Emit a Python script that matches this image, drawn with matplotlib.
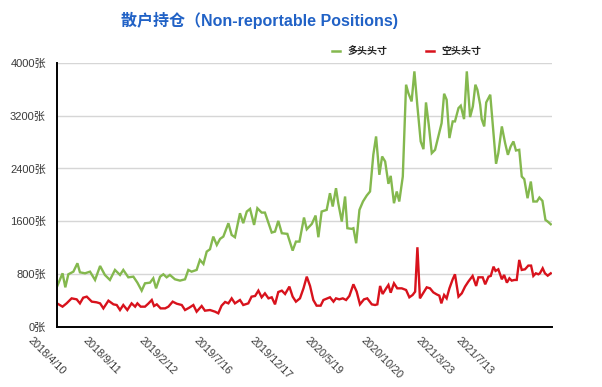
import numpy as np
import pandas as pd
import matplotlib
matplotlib.use("Agg")
import matplotlib.pyplot as plt
import matplotlib.transforms as mtransforms

plt.rcParams['font.family'] = ['Liberation Sans', 'Noto Sans CJK SC', 'DejaVu Sans']

start_date = "2018-04-10"
tick_labels = ["2018/4/10", "2018/9/11", "2019/2/12", "2019/7/16", "2019/12/17",
               "2020/5/19", "2020/10/20", "2021/3/23", "2021/7/13"]
y_ticks = [0, 800, 1600, 2400, 3200, 4000]

# weeks since 2018-04-10 and contract counts
long_weeks = [0, 2.2, 3.3, 4.5, 6.5, 8.1, 9.1, 11.1, 13.1, 15.1, 17.1, 19.0, 21.0, 23.0, 25.0,
              26.3, 28.3, 30.3, 31.9, 33.6, 34.9, 36.9, 38.2, 39.3, 40.9, 42.2, 43.5, 44.8,
              46.8, 48.8, 50.8, 52.1, 53.4, 55.4, 56.7, 58.1, 59.4, 60.7, 62.0, 63.4, 64.7,
              66.0, 68.0, 69.3, 70.6, 72.6, 73.9, 75.3, 76.6, 78.2, 79.5, 81.2, 82.5, 85.2,
              86.5, 87.8, 89.2, 91.4, 93.5, 94.8, 96.2, 98.0, 99.1, 101.1, 102.6, 103.7,
              105.0, 107.0, 108.3, 109.4, 110.7, 111.6, 113.0, 114.3, 115.2, 116.9, 117.6,
              118.7, 120.0, 121.4, 122.9, 124.2, 125.5, 126.6, 127.9, 129.0, 130.2, 131.5,
              132.4, 133.7, 134.8, 135.8, 137.2, 138.5, 139.4, 140.7, 141.8, 143.0, 144.3,
              145.4, 146.4, 147.5, 148.7, 150.0, 151.3, 152.6, 153.6, 154.6, 155.7, 157.0,
              157.9, 159.3, 160.2, 161.5, 162.6, 163.9, 165.0, 166.0, 166.8, 167.9, 168.5,
              169.5, 170.3, 171.9, 172.9, 174.2, 175.1, 176.5, 177.8, 178.9, 180.0, 181.1,
              182.1, 183.4, 184.4, 185.4, 186.7, 188.0, 189.0, 190.4, 191.4, 192.6, 193.8,
              194.7, 195.9]
long_vals = [607, 810, 597, 795, 835, 962, 825, 810, 835, 709, 921, 785, 709, 861, 785,
             861, 749, 759, 668, 547, 658, 668, 734, 582, 759, 795, 749, 785,
             719, 699, 719, 861, 835, 861, 1013, 952, 1139, 1175, 1367, 1240, 1332,
             1367, 1570, 1392, 1357, 1721, 1570, 1747, 1787, 1544, 1797, 1731, 1731, 1428,
             1443, 1605, 1418, 1408, 1154, 1291, 1291, 1656, 1478, 1559, 1686, 1357,
             1747, 1772, 2025, 1823, 2101, 1873, 1595, 1975, 1494, 1484, 1494,
             1266, 1772, 1899, 1990, 2051, 2607, 2886, 2304, 2582, 2506, 2167,
             2288, 1873, 2051, 1899, 2278, 3671, 3544, 3417, 3873, 3342, 2810,
             2693, 3402, 3063, 2633, 2683, 2886, 3088, 3534, 3443, 2861, 3114,
             3114, 3316, 3352, 3149, 3873, 3180, 3342, 3671, 3595, 3367, 3149,
             3038, 3402, 3519, 3063, 2471, 2633, 3038, 2785, 2607, 2734, 2810,
             2673, 2683, 2278, 2238, 1949, 2202, 1899, 1899, 1959, 1909, 1620,
             1595, 1554]

short_weeks = [0, 2.2, 3.8, 5.8, 7.8, 9.1, 10.4, 11.8, 13.8, 15.7, 17.1, 18.4, 20.4, 22.4,
               23.7, 25.0, 26.3, 27.9, 29.6, 31.0, 31.9, 33.2, 34.9, 36.2, 37.6, 38.5, 39.6,
               41.1, 42.9, 44.2, 45.9, 47.5, 49.5, 50.8, 52.5, 54.1, 55.4, 57.4, 58.7, 60.7,
               62.7, 64.0, 65.3, 66.7, 68.0, 69.3, 70.6, 72.6, 73.9, 75.9, 77.2, 78.6, 79.9,
               81.2, 82.5, 83.9, 85.2, 86.5, 87.8, 89.2, 90.5, 92.2, 93.5, 94.8, 96.4, 97.8,
               99.1, 100.4, 101.7, 103.0, 104.6, 105.7, 107.3, 108.3, 109.7, 110.7, 112.0,
               113.4, 114.7, 116.0, 117.6, 118.9, 120.2, 121.8, 123.1, 124.9, 126.2, 127.1,
               128.2, 129.2, 130.6, 131.5, 132.4, 133.7, 135.0, 136.8, 138.5, 139.8, 141.1,
               142.1, 143.0, 144.0, 145.4, 146.7, 148.0, 149.3, 150.6, 151.7, 152.5, 153.6,
               154.6, 155.7, 157.0, 157.9, 159.3, 160.6, 161.9, 163.2, 164.9, 166.3, 167.2,
               168.9, 169.9, 171.2, 172.1, 173.2, 174.0, 175.1, 176.5, 177.4, 178.5, 179.5,
               180.4, 181.5, 182.4, 183.4, 184.4, 185.7, 187.0, 188.1, 189.0, 190.0, 191.0,
               191.6, 192.7, 193.6, 194.7, 195.9]
short_vals = [354, 304, 354, 430, 415, 354, 440, 456, 380, 370, 354, 278, 395, 339,
              329, 253, 329, 253, 354, 304, 354, 304, 304, 349, 405, 314, 339,
              278, 278, 304, 380, 349, 329, 253, 289, 329, 228, 314, 243, 253,
              228, 203, 319, 375, 354, 430, 354, 405, 329, 354, 456, 466, 547,
              446, 506, 430, 446, 339, 526, 547, 496, 608, 456, 380, 430, 582,
              759, 618, 405, 319, 319, 405, 430, 446, 380, 430, 415,
              430, 405, 466, 643, 532, 339, 415, 430, 339, 329, 339,
              618, 496, 582, 633, 516, 658, 582, 582, 557, 446, 481,
              532, 1205, 430, 516, 597, 582, 521, 491, 471, 354, 481,
              430, 582, 719, 795, 456, 506, 608, 684, 770, 618, 749,
              749, 643, 759, 770, 911, 846, 871, 719, 785, 668, 734,
              699, 709, 709, 1013, 861, 871, 927, 927, 770, 810, 795,
              810, 886, 810, 774, 810]

series_names = ["多头头寸", "空头头寸"]
green = "#84b84e"
red = "#d8121c"

fig = plt.figure(figsize=(6.02, 3.87), dpi=100)
ax = fig.add_axes([57/602, 1-326.7/387, (552-57)/602, (326.7-63)/387])

ax.plot(long_weeks, long_vals, color=green, lw=1.7, solid_joinstyle='miter', zorder=3)
ax.plot(short_weeks, short_vals, color=red, lw=1.7, solid_joinstyle='miter', zorder=3)

ax.set_xlim(0, 196.4)
ax.set_ylim(0, 4000)
ax.set_yticks(y_ticks)
ax.set_yticklabels([f"{v}张" for v in y_ticks], fontsize=8, color="#3a3a3a")
ax.tick_params(axis='y', length=0, pad=8)
ax.grid(axis='y', color='#d6d6d6', lw=1)
ax.set_axisbelow(True)
for s in ['top', 'right']:
    ax.spines[s].set_visible(False)
for s in ['left', 'bottom']:
    ax.spines[s].set_color('black')
    ax.spines[s].set_linewidth(1.4)
    ax.spines[s].set_zorder(4)

start = pd.Timestamp(start_date)
tick_pos = [(pd.Timestamp(t.replace('/', '-')) - start).days / 7 for t in tick_labels]
ax.set_xticks(tick_pos)
ax.set_xticklabels([])
ax.tick_params(axis='x', length=0)
trans = mtransforms.blended_transform_factory(ax.transData, ax.transAxes)
off = mtransforms.ScaledTranslation(-24/100, -9/100, fig.dpi_scale_trans)
for p, lab in zip(tick_pos, tick_labels):
    ax.text(p, 0, lab, transform=trans + off, rotation=-45, rotation_mode='anchor',
            ha='left', va='top', fontsize=7.8, color='#3a3a3a')

fig.text(259.5/602, 1-20/387, "散户持仓（Non-reportable Positions)", ha='center', va='center',
         fontsize=11.5, fontweight='bold', color='#2162c6')

# legend
fig.lines.append(plt.Line2D([332/602, 340/602], [1-51/387, 1-51/387], transform=fig.transFigure,
                            color=green, lw=1.8))
fig.text(347/602, 1-51/387, series_names[0], ha='left', va='center', fontsize=7.2,
         color='#222222', fontweight='bold')
fig.lines.append(plt.Line2D([426/602, 434/602], [1-51/387, 1-51/387], transform=fig.transFigure,
                            color=red, lw=1.8))
fig.text(441/602, 1-51/387, series_names[1], ha='left', va='center', fontsize=7.2,
         color='#222222', fontweight='bold')

fig.savefig("out.png", dpi=100)
